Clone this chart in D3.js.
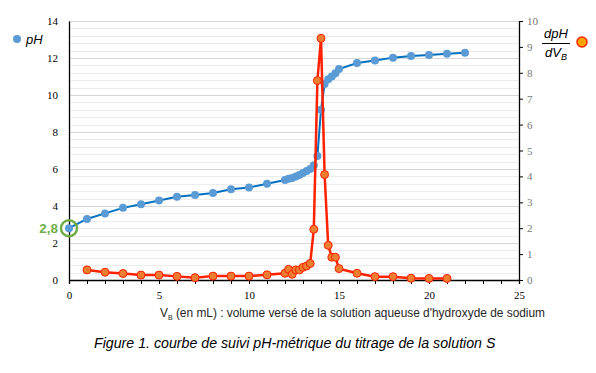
<!DOCTYPE html>
<html>
<head>
  <meta charset="utf-8">
  <style>
    body { margin: 0; background: #ffffff; }
    svg { display: block; }
    .tick text { font-family: 'Liberation Serif', serif; font-size: 11px; }
  </style>
  <script src="https://cdnjs.cloudflare.com/ajax/libs/d3/7.8.5/d3.min.js"></script>
</head>
<body>
  <div id="chart"></div>
  <script>
    // volume added (mL) and pH readings
    const vPH = [0, 1, 2, 3, 4, 5, 6, 7, 8, 9, 10, 11, 12, 12.2, 12.4, 12.6, 12.8, 13, 13.2, 13.4, 13.6, 13.8, 14, 14.2, 14.4, 14.6, 14.8, 15, 16, 17, 18, 19, 20, 21, 22];
    const pH = [2.8, 3.3, 3.6, 3.9, 4.1, 4.3, 4.5, 4.6, 4.7, 4.9, 5.0, 5.2, 5.4, 5.47, 5.52, 5.6, 5.68, 5.78, 5.89, 6.0, 6.2, 6.7, 9.2, 10.6, 10.85, 11.0, 11.17, 11.4, 11.73, 11.87, 12.02, 12.11, 12.16, 12.23, 12.29];

    // derivative dpH/dVB
    const vD = [1, 2, 3, 4, 5, 6, 7, 8, 9, 10, 11, 12, 12.2, 12.4, 12.6, 12.8, 13, 13.2, 13.4, 13.6, 13.8, 14, 14.2, 14.4, 14.6, 14.8, 15, 16, 17, 18, 19, 20, 21];
    const dpH = [0.39, 0.3, 0.25, 0.19, 0.19, 0.14, 0.09, 0.15, 0.15, 0.15, 0.2, 0.26, 0.41, 0.22, 0.39, 0.39, 0.49, 0.54, 0.64, 1.96, 7.7, 9.33, 4.07, 1.34, 0.88, 0.88, 0.44, 0.26, 0.13, 0.13, 0.07, 0.06, 0.06];

    const xTicks = [0, 5, 10, 15, 20, 25];
    const leftTicks = [0, 2, 4, 6, 8, 10, 12, 14];
    const rightTicks = [0, 1, 2, 3, 4, 5, 6, 7, 8, 9, 10];

    const W = 596, H = 373;
    const L = 69, R = 519, T = 21, B = 280;

    const svg = d3.select("#chart").append("svg")
      .attr("width", W).attr("height", H);

    const x = d3.scaleLinear().domain([0, 25]).range([L, R]);
    const yL = d3.scaleLinear().domain([0, 14]).range([B, T]);
    const yR = d3.scaleLinear().domain([0, 10]).range([B, T]);

    // minor + major gridlines
    const minor = d3.range(0, 14.01, 0.4).filter(v => Math.abs(v / 2 - Math.round(v / 2)) > 0.01);
    svg.append("g").selectAll("line").data(minor).join("line")
      .attr("x1", L).attr("x2", R)
      .attr("y1", d => Math.round(yL(d)) + 0.5).attr("y2", d => Math.round(yL(d)) + 0.5)
      .attr("stroke", "#ececec");
    svg.append("g").selectAll("line").data(leftTicks.slice(1)).join("line")
      .attr("x1", L).attr("x2", R)
      .attr("y1", d => Math.round(yL(d)) + 0.5).attr("y2", d => Math.round(yL(d)) + 0.5)
      .attr("stroke", "#d6d6d6");

    // axes
    const gx = svg.append("g").attr("transform", `translate(0,${B})`)
      .call(d3.axisBottom(x).tickValues(d3.range(0, 26)).tickSize(4)
        .tickFormat(d => xTicks.includes(d) ? d : ""));
    gx.select(".domain").attr("stroke", "#000").attr("stroke-width", 1.3);
    gx.selectAll(".tick line").attr("stroke", "#000");
    gx.selectAll(".tick text").attr("dy", "1.1em").attr("fill", "#000");

    const gl = svg.append("g").attr("transform", `translate(${L},0)`)
      .call(d3.axisLeft(yL).tickValues(leftTicks).tickSize(0).tickPadding(11));
    gl.select(".domain").attr("stroke", "#000").attr("stroke-width", 1.3);
    gl.selectAll(".tick text").attr("fill", "#000");

    const gr = svg.append("g").attr("transform", `translate(${R},0)`)
      .call(d3.axisRight(yR).tickValues(rightTicks).tickSizeInner(4).tickSizeOuter(0).tickPadding(4));
    gr.select(".domain").attr("stroke", "#000").attr("stroke-width", 1.3);
    gr.selectAll(".tick line").attr("stroke", "#000");
    gr.selectAll(".tick text").attr("fill", "#777");

    // pH curve
    const blue = vPH.map((v, i) => [v, pH[i]]);
    svg.append("path").datum(blue)
      .attr("fill", "none").attr("stroke", "#0070c0").attr("stroke-width", 2)
      .attr("d", d3.line().x(d => x(d[0])).y(d => yL(d[1])));
    svg.append("g").selectAll("circle").data(blue).join("circle")
      .attr("cx", d => x(d[0])).attr("cy", d => yL(d[1])).attr("r", 4)
      .attr("fill", "#5b9bd5");

    // derivative curve
    const red = vD.map((v, i) => [v, dpH[i]]);
    svg.append("path").datum(red)
      .attr("fill", "none").attr("stroke", "#ff2200").attr("stroke-width", 2.5)
      .attr("d", d3.line().x(d => x(d[0])).y(d => yR(d[1])));
    svg.append("g").selectAll("circle").data(red).join("circle")
      .attr("cx", d => x(d[0])).attr("cy", d => yR(d[1])).attr("r", 4)
      .attr("fill", "#ed7d31").attr("stroke", "#ff2200").attr("stroke-width", 1);

    // 2,8 annotation
    svg.append("circle").attr("cx", x(0)).attr("cy", yL(pH[0])).attr("r", 8)
      .attr("fill", "none").attr("stroke", "#70ad47").attr("stroke-width", 2.5);
    svg.append("text").attr("x", 58).attr("y", yL(pH[0]) + 5)
      .attr("text-anchor", "end").attr("fill", "#70ad47")
      .style("font", "bold 13.5px 'Liberation Sans', Arial, sans-serif").text("2,8");

    // legends
    svg.append("circle").attr("cx", 17).attr("cy", 39).attr("r", 4).attr("fill", "#5b9bd5");
    svg.append("text").attr("x", 26).attr("y", 44)
      .style("font", "italic 13px 'Liberation Sans', Arial, sans-serif").attr("fill", "#000").text("pH");

    const lg = svg.append("g").style("font", "italic 13px 'Liberation Sans', Arial, sans-serif");
    lg.append("text").attr("x", 556).attr("y", 38).attr("text-anchor", "middle").text("dpH");
    lg.append("line").attr("x1", 542).attr("x2", 570).attr("y1", 43.5).attr("y2", 43.5)
      .attr("stroke", "#000").attr("stroke-width", 1);
    const den = lg.append("text").attr("x", 545).attr("y", 57);
    den.append("tspan").text("dV");
    den.append("tspan").attr("dy", 3).style("font-size", "9px").text("B");
    svg.append("circle").attr("cx", 582).attr("cy", 42).attr("r", 5)
      .attr("fill", "#ffa500").attr("stroke", "#ff2200").attr("stroke-width", 1.5);

    // x axis title
    const xt = svg.append("text").attr("x", 160).attr("y", 317).attr("fill", "#262626")
      .style("font", "11.9px 'Liberation Sans', Arial, sans-serif");
    xt.append("tspan").text("V");
    xt.append("tspan").attr("dy", 3).style("font-size", "7px").text("B");
    xt.append("tspan").attr("dy", -3).text(" (en mL) : volume versé de la solution aqueuse d'hydroxyde de sodium");

    // caption
    svg.append("text").attr("x", 94).attr("y", 348).attr("fill", "#000")
      .style("font", "italic 14.2px 'Liberation Sans', Arial, sans-serif")
      .text("Figure 1. courbe de suivi pH-métrique du titrage de la solution S");
  </script>
</body>
</html>
